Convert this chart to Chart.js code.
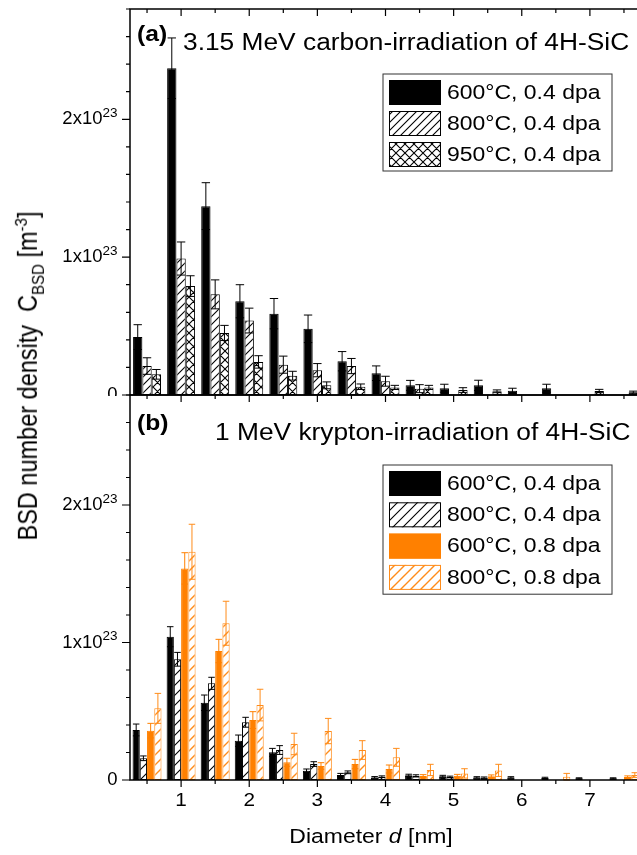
<!DOCTYPE html>
<html>
<head>
<meta charset="utf-8">
<script src="https://cdn.jsdelivr.net/npm/chart.js@4.4.0/dist/chart.umd.min.js"></script>
<style>
  html, body { margin: 0; padding: 0; background: #fff; overflow: hidden; }
  #wrap { position: relative; width: 637px; height: 855px; overflow: hidden; }
  canvas { position: absolute; left: 0; }
  #chartA { top: 0; width: 645px; height: 396px; }
  #chartB { top: 390px; width: 645px; height: 465px; }
  #ytitle {
    position: absolute; left: 29px; top: 376px;
    transform: translate(-50%, -50%) rotate(-90deg) scaleY(1.15);
    white-space: nowrap; color: #000;
    font: 23.5px "Liberation Sans", Arial, sans-serif;
  }
  #ytitle sub, #ytitle sup { font-size: 15px; }
</style>
</head>
<body>
<div id="wrap">
  <canvas id="chartA" width="645" height="396"></canvas>
  <canvas id="chartB" width="645" height="465"></canvas>
  <div id="ytitle">BSD number density&nbsp; C<sub>BSD</sub> [m<sup>-3</sup>]</div>
</div>
<script>
// Diameter bins in nm, one group of bars per bin
const diameters = ['0.5', '1', '1.5', '2', '2.5', '3', '3.5', '4', '4.5', '5', '5.5', '6', '6.5', '7', '7.5'];
const xTickLabels = ['1', '2', '3', '4', '5', '6', '7'];

// all densities are in units of 1x10^23 m^-3
const yTickValues = [0, 1, 2];
const yTickLabels = ['0', '1x10', '2x10'];
const yTickExponent = '23';

// (a) carbon irradiation
const titleA = '3.15 MeV carbon-irradiation of 4H-SiC';
const labelsA = ['600\u00B0C, 0.4 dpa', '800\u00B0C, 0.4 dpa', '950\u00B0C, 0.4 dpa'];
const carbon600 = [0.42, 2.37, 1.37, 0.68, 0.59, 0.48, 0.245, 0.158, 0.07, 0.049, 0.07, 0.031, 0.049, 0, 0];
const carbon600Err = [0.09, 0.22, 0.17, 0.12, 0.11, 0.10, 0.07, 0.053, 0.036, 0.029, 0.037, 0.018, 0.029, 0, 0];
const carbon800 = [0.21, 0.99, 0.73, 0.54, 0.22, 0.18, 0.21, 0.10, 0.046, 0, 0, 0, 0, 0, 0];
const carbon800Err = [0.06, 0.12, 0.105, 0.09, 0.062, 0.048, 0.055, 0.036, 0.029, 0, 0, 0, 0, 0, 0];
const carbon950 = [0.15, 0.79, 0.45, 0.24, 0.14, 0.07, 0.06, 0.055, 0.055, 0.036, 0.027, 0, 0, 0.029, 0.02];
const carbon950Err = [0.035, 0.075, 0.055, 0.045, 0.032, 0.025, 0.02, 0.015, 0.015, 0.017, 0.01, 0, 0, 0.012, 0.008];

// (b) krypton irradiation
const titleB = '1 MeV krypton-irradiation of 4H-SiC';
const labelsB = ['600\u00B0C, 0.4 dpa', '800\u00B0C, 0.4 dpa', '600\u00B0C, 0.8 dpa', '800\u00B0C, 0.8 dpa'];
const krypton600low = [0.364, 1.042, 0.562, 0.286, 0.201, 0.068, 0.036, 0.019, 0.034, 0.027, 0.019, 0.019, 0.015, 0.012, 0.012];
const krypton600lowErr = [0.043, 0.073, 0.056, 0.041, 0.029, 0.012, 0.012, 0.006, 0.008, 0.007, 0.005, 0.005, 0.005, 0.004, 0.004];
const krypton800low = [0.158, 0.878, 0.703, 0.42, 0.218, 0.116, 0.056, 0.024, 0.03, 0.022, 0.017, 0, 0, 0, 0];
const krypton800lowErr = [0.017, 0.05, 0.044, 0.036, 0.032, 0.017, 0.01, 0.006, 0.008, 0.006, 0.005, 0, 0, 0, 0];
const krypton600high = [0.359, 1.539, 0.938, 0.436, 0.129, 0.102, 0.116, 0.08, 0.029, 0.031, 0.027, 0, 0, 0, 0.022];
const krypton600highErr = [0.053, 0.114, 0.085, 0.061, 0.029, 0.024, 0.034, 0.029, 0.01, 0.01, 0.01, 0, 0, 0, 0.008];
const krypton800high = [0.521, 1.66, 1.14, 0.545, 0.262, 0.356, 0.218, 0.165, 0.073, 0.048, 0.07, 0, 0.024, 0, 0.036];
const krypton800highErr = [0.109, 0.2, 0.16, 0.115, 0.078, 0.092, 0.068, 0.065, 0.041, 0.034, 0.044, 0, 0.024, 0, 0.017];

const FONT = '"Liberation Sans", Arial, sans-serif';
const ORANGE = '#ff8000';
const HATCH_ORANGE = '#ff8c1a';
const STRETCH = 1.12; // text in the figure is a bit wider than it is tall

// small tile with diagonal lines, used as bar fill
function makeHatch(color, size, cross, width) {
    const c = document.createElement('canvas');
    c.width = size;
    c.height = size;
    const g = c.getContext('2d');
    g.fillStyle = '#fff';
    g.fillRect(0, 0, size, size);
    g.strokeStyle = color;
    g.lineWidth = width || 1;
    g.beginPath();
    g.moveTo(-1, size + 1); g.lineTo(size + 1, -1);
    g.moveTo(-1, 1); g.lineTo(1, -1);
    g.moveTo(size - 1, size + 1); g.lineTo(size + 1, size - 1);
    if (cross) {
        g.moveTo(-1, -1); g.lineTo(size + 1, size + 1);
        g.moveTo(size - 1, -1); g.lineTo(size + 1, 1);
        g.moveTo(-1, size - 1); g.lineTo(1, size + 1);
    }
    g.stroke();
    return g.createPattern(c, 'repeat');
}

function stretchedText(ctx, str, x, y, align, sx) {
    const s = sx || STRETCH;
    ctx.save();
    ctx.translate(x, y);
    ctx.scale(s, 1);
    ctx.textAlign = align || 'left';
    ctx.fillText(str, 0, 0);
    ctx.restore();
    return ctx.measureText(str).width * s;
}

// symmetric error bars with caps on both ends
const errorBars = {
    id: 'errorBars',
    afterDatasetsDraw(chart) {
        const ctx = chart.ctx;
        const y = chart.scales.y;
        chart.data.datasets.forEach((ds, i) => {
            const meta = chart.getDatasetMeta(i);
            meta.data.forEach((bar, j) => {
                const err = ds.errors[j];
                if (!err) return;
                const v = ds.data[j];
                const top = y.getPixelForValue(v + err);
                const bot = y.getPixelForValue(Math.max(v - err, 0));
                const half = bar.width * 0.45;
                ctx.save();
                ctx.strokeStyle = ds.errorColor;
                ctx.lineWidth = 1;
                ctx.beginPath();
                ctx.moveTo(bar.x, top); ctx.lineTo(bar.x, bot);
                ctx.moveTo(bar.x - half, top); ctx.lineTo(bar.x + half, top);
                ctx.moveTo(bar.x - half, bot); ctx.lineTo(bar.x + half, bot);
                ctx.stroke();
                ctx.restore();
            });
        });
    }
};

// frame, ticks, tick labels, panel title and the boxed legend
const panelDecor = {
    id: 'panelDecor',
    afterDraw(chart, args, o) {
        const ctx = chart.ctx;
        const a = chart.chartArea;
        const x = chart.scales.x;
        const y = chart.scales.y;
        ctx.save();
        ctx.strokeStyle = '#000';
        ctx.lineWidth = 1.5;
        ctx.strokeRect(a.left, a.top, a.right - a.left, a.bottom - a.top);

        ctx.lineWidth = 1.2;
        ctx.beginPath();
        for (let k = 0; k * 0.2 <= y.max + 1e-9; k++) {
            const py = y.getPixelForValue(k * 0.2);
            const len = k % 5 === 0 ? 8 : 4;
            ctx.moveTo(a.left, py); ctx.lineTo(a.left - len, py);
        }
        diameters.forEach((d, i) => {
            const px = x.getPixelForValue(i);
            const len = xTickLabels.includes(d) ? 7 : 4;
            ctx.moveTo(px, a.top); ctx.lineTo(px, a.top + len);
            if (o.bottomAxis) {
                ctx.moveTo(px, a.bottom); ctx.lineTo(px, a.bottom + len);
            }
        });
        ctx.stroke();

        // y tick labels like 1x10^23
        ctx.fillStyle = '#000';
        ctx.textBaseline = 'middle';
        const right = a.left - 12.5;
        yTickValues.forEach((v, k) => {
            const py = y.getPixelForValue(v);
            let supW = 0;
            if (v !== 0) {
                ctx.font = '13.5px ' + FONT;
                supW = stretchedText(ctx, yTickExponent, right, py - 6, 'right', 1);
            }
            ctx.font = '18.5px ' + FONT;
            stretchedText(ctx, yTickLabels[k], right - supW, py, 'right', 1);
        });

        if (o.bottomAxis) {
            ctx.font = '18.5px ' + FONT;
            xTickLabels.forEach(lab => {
                stretchedText(ctx, lab, x.getPixelForValue(diameters.indexOf(lab)), a.bottom + 21, 'center');
            });
            // axis title: Diameter d [nm]
            ctx.textBaseline = 'alphabetic';
            const parts = [['Diameter ', ''], ['d', 'italic '], [' [nm]', '']];
            let total = 0;
            parts.forEach(p => { ctx.font = p[1] + '20.5px ' + FONT; total += ctx.measureText(p[0]).width * STRETCH; });
            let tx = a.left + o.xTitleX - total / 2;
            parts.forEach(p => {
                ctx.font = p[1] + '20.5px ' + FONT;
                tx += stretchedText(ctx, p[0], tx, a.bottom + 63, 'left');
            });
        }

        // panel tag and title
        ctx.textBaseline = 'alphabetic';
        ctx.font = 'bold 22px ' + FONT;
        stretchedText(ctx, o.tag, a.left + 7, a.top + o.tagBase, 'left');
        ctx.font = '23.5px ' + FONT;
        stretchedText(ctx, o.title, a.left + o.titleX, a.top + o.titleBase, 'left');

        // legend box
        const L = o.legend;
        const n = chart.data.datasets.length;
        const bx = a.left + L.left;
        const by = a.top + L.top;
        ctx.lineWidth = 1;
        ctx.strokeStyle = '#333';
        ctx.strokeRect(bx, by, L.width, n * L.rowGap + 4);
        ctx.font = '20.5px ' + FONT;
        ctx.textBaseline = 'middle';
        chart.data.datasets.forEach((ds, i) => {
            const sy = by + 6 + i * L.rowGap;
            ctx.fillStyle = ds.backgroundColor;
            ctx.fillRect(bx + 6, sy, 52, 25);
            ctx.strokeStyle = ds.borderColor;
            ctx.strokeRect(bx + 6.5, sy + 0.5, 51, 24);
            ctx.fillStyle = '#000';
            stretchedText(ctx, ds.label, bx + 64, sy + 13, 'left');
        });
        ctx.restore();
    }
};

function makeChart(id, datasets, decor, groupWidth, padding) {
    return new Chart(document.getElementById(id), {
        type: 'bar',
        data: { labels: diameters, datasets: datasets },
        options: {
            responsive: false,
            animation: false,
            layout: { padding: padding },
            datasets: { bar: { categoryPercentage: groupWidth, barPercentage: 1, borderWidth: 1, borderSkipped: false } },
            scales: {
                x: { type: 'category', offset: true, display: false },
                y: { min: 0, max: 2.8, display: false }
            },
            plugins: {
                legend: { display: false },
                tooltip: { enabled: false },
                panelDecor: decor
            }
        },
        plugins: [errorBars, panelDecor]
    });
}

makeChart('chartA', [
    { label: labelsA[0], data: carbon600, errors: carbon600Err, backgroundColor: '#000', borderColor: '#000', errorColor: '#000' },
    { label: labelsA[1], data: carbon800, errors: carbon800Err, backgroundColor: makeHatch('#000', 8, false, 1.1), borderColor: '#000', errorColor: '#000' },
    { label: labelsA[2], data: carbon950, errors: carbon950Err, backgroundColor: makeHatch('#000', 9, true, 1.1), borderColor: '#000', errorColor: '#000' }
], {
    tag: '(a)', title: titleA, tagBase: 32, titleX: 53, titleBase: 40.5,
    bottomAxis: false, legend: { left: 253, top: 65, width: 229, rowGap: 31 }
}, 0.82, { left: 130, top: 9, right: 4, bottom: 1 });

makeChart('chartB', [
    { label: labelsB[0], data: krypton600low, errors: krypton600lowErr, backgroundColor: '#000', borderColor: '#000', errorColor: '#000' },
    { label: labelsB[1], data: krypton800low, errors: krypton800lowErr, backgroundColor: makeHatch('#000', 10, false, 1.1), borderColor: '#000', errorColor: '#000' },
    { label: labelsB[2], data: krypton600high, errors: krypton600highErr, backgroundColor: ORANGE, borderColor: ORANGE, errorColor: ORANGE },
    { label: labelsB[3], data: krypton800high, errors: krypton800highErr, backgroundColor: makeHatch(HATCH_ORANGE, 10, false, 1.4), borderColor: HATCH_ORANGE, errorColor: HATCH_ORANGE }
], {
    tag: '(b)', title: titleB, tagBase: 35, titleX: 85, titleBase: 45, xTitleX: 241,
    bottomAxis: true, legend: { left: 253, top: 70, width: 229, rowGap: 31.3 }
}, 0.85, { left: 130, top: 5, right: 4, bottom: 75 });
</script>
</body>
</html>
